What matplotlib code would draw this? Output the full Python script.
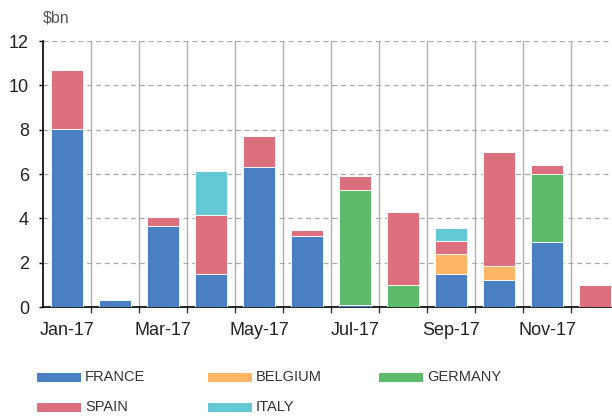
import matplotlib
matplotlib.use("Agg")
import matplotlib.pyplot as plt
from matplotlib.patches import Rectangle
import numpy as np

plt.rcParams["font.family"] = ["Liberation Sans", "DejaVu Sans"]

months = ["Jan-17", "Feb-17", "Mar-17", "Apr-17", "May-17", "Jun-17",
          "Jul-17", "Aug-17", "Sep-17", "Oct-17", "Nov-17", "Dec-17"]
france  = [8.05, 0.32, 3.67, 1.5, 6.32, 3.22, 0.1, 0.0, 1.5, 1.23, 2.95, 0.0]
belgium = [0.0, 0.0, 0.0, 0.0, 0.0, 0.0, 0.0, 0.0, 0.9, 0.6, 0.0, 0.0]
germany = [0.0, 0.0, 0.0, 0.0, 0.0, 0.0, 5.2, 1.0, 0.0, 0.0, 3.06, 0.0]
spain   = [2.65, 0.0, 0.38, 2.65, 1.4, 0.27, 0.6, 3.27, 0.56, 5.17, 0.38, 0.98]
italy   = [0.0, 0.0, 0.0, 2.0, 0.0, 0.0, 0.0, 0.0, 0.61, 0.0, 0.0, 0.0]

series = [("FRANCE", france, "#4a80c2"),
          ("BELGIUM", belgium, "#fcb666"),
          ("GERMANY", germany, "#5dbb6b"),
          ("SPAIN", spain, "#dc707f"),
          ("ITALY", italy, "#64c9d5")]
yticks = [0, 2, 4, 6, 8, 10, 12]

W, H = 612, 416
fig = plt.figure(figsize=(W/100, H/100), dpi=100)
ax = fig.add_axes([43/W, 1-307/H, 576/W, 266/H])

x = np.arange(len(months))
bottom = np.zeros(len(months))
for name, vals, col in series:
    v = np.array(vals)
    ax.bar(x, v, width=32/48, bottom=bottom, color=col, edgecolor="white",
           linewidth=0.6, zorder=3)
    bottom += v

ax.set_xlim(-0.5, len(months) - 0.5)
ax.set_ylim(0, 12)
ax.set_yticks(yticks)
ax.set_yticklabels([str(t) for t in yticks])
for t in yticks[1:]:
    ax.axhline(t, color="#a8a8a8", lw=0.9, ls=(0, (4, 3)), zorder=1)
for b in np.arange(0.5, len(months) - 0.5, 1):
    ax.axvline(b, color="#b0b0b0", lw=1.0, zorder=1)

ax.set_xticks(x[::2])
ax.set_xticklabels(months[::2])
ax.set_xticks(np.arange(0.5, len(months) - 0.5, 1), minor=True)
ax.tick_params(axis="x", which="major", length=0, pad=11, labelsize=13, labelcolor="#222222")
ax.tick_params(axis="x", which="minor", length=4, width=1, color="#333333", direction="out")
ax.tick_params(axis="y", length=3, width=1, pad=7, labelsize=13, labelcolor="#222222")

for s in ["top", "right"]:
    ax.spines[s].set_visible(False)
ax.spines["left"].set_linewidth(1.2)
ax.spines["bottom"].set_linewidth(1.2)

fig.text(43/W, 1-18/H, "$bn", fontsize=11.5, color="#555555", va="center", ha="left")

# legend, row-major in 3 columns
col_x = [37, 208, 379]
row_y = [377, 407]
for i, (name, _, c) in enumerate(series):
    cx = col_x[i % 3]
    cy = row_y[i // 3]
    fig.patches.append(Rectangle((cx/W, 1-(cy+4.5)/H), 44/W, 9/H,
                                 transform=fig.transFigure, facecolor=c,
                                 edgecolor="none"))
    fig.text((cx+48)/W, 1-cy/H, name, fontsize=10.5, color="#333333",
             va="center", ha="left", fontstretch="condensed")

fig.savefig("out.png", dpi=100)
